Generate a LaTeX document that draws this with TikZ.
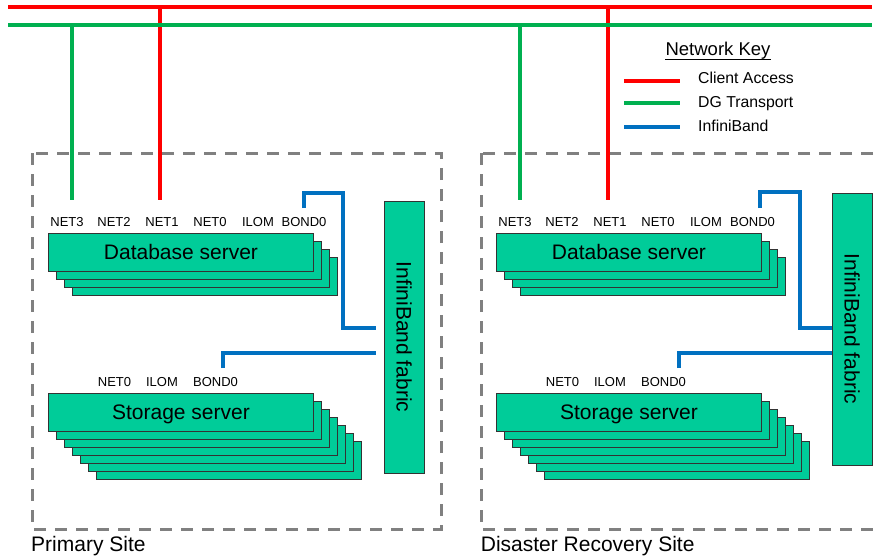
\documentclass[tikz,border=0pt]{standalone}
\usepackage{fontspec}
\setmainfont{Liberation Sans}
\definecolor{netred}{HTML}{FF0000}
\definecolor{netgreen}{HTML}{00B050}
\definecolor{netblue}{HTML}{0070C0}
\definecolor{srvfill}{HTML}{00CC99}
\definecolor{sitegray}{HTML}{808080}
\begin{document}
\begin{tikzpicture}[x=1pt,y=-1pt,
  srv/.style={draw=black!80, line width=0.9pt, fill=srvfill, minimum width=265pt,
    minimum height=38pt, inner sep=0pt, anchor=north west},
  srvtext/.style={font=\fontsize{21}{24}\selectfont, text height=15pt, text depth=0pt},
  fabric/.style={draw=black!80, line width=0.9pt, fill=srvfill, rotate=-90,
    minimum width=272pt, minimum height=40pt, inner sep=0pt,
    font=\fontsize{21}{24}\selectfont, text height=15pt, text depth=0pt},
  port/.style={font=\fontsize{13}{15}\selectfont, anchor=base, inner sep=0pt},
  keytext/.style={font=\fontsize{15.8}{18}\selectfont, anchor=base west, inner sep=0pt},
  sitelabel/.style={font=\fontsize{21}{24}\selectfont, anchor=base west, inner sep=0pt},
  site/.style={draw=sitegray, line width=3pt, dash pattern=on 12pt off 9pt},
  bus/.style={line width=4pt},
  drop/.style={line width=3.6pt},
  link/.style={draw=netblue, line width=3.4pt}]
\useasboundingbox (0,0) rectangle (880,559);
\clip (0,0) rectangle (880,559);

% ---- site outlines ----
\draw[site] (32,153) rectangle (441,529);
\draw[site] (481,153) rectangle (889,529);

% ---- bus end points and port taps ----
\coordinate (redW) at (8,7);   \coordinate (redE) at (872,7);
\coordinate (grnW) at (8,25);  \coordinate (grnE) at (872,25);
\coordinate (tapA3) at (72,200);  \coordinate (tapA1) at (160,200);
\coordinate (tapB3) at (520,200); \coordinate (tapB1) at (608,200);

% ---- client access and DG transport networks ----
\draw[bus, netred] (redW) -- (redE);
\draw[drop, netred] (tapA1 |- redW) -- (tapA1);
\draw[drop, netred] (tapB1 |- redW) -- (tapB1);
\draw[bus, netgreen] (grnW) -- (grnE);
\draw[drop, netgreen] (tapA3 |- grnW) -- (tapA3);
\draw[drop, netgreen] (tapB3 |- grnW) -- (tapB3);

% ---- primary site ----
\foreach \k in {3,2,1} \node[srv] (dbA\k) at (48+8*\k, 233+8*\k) {};
\node[srv, srvtext] (dbA) at (48,233) {Database server};
\foreach \k in {6,5,4,3,2,1} \node[srv] (stA\k) at (48+8*\k, 393+8*\k) {};
\node[srv, srvtext] (stA) at (48,393) {Storage server};
\node[fabric] (fabA) at (404,337) {InfiniBand fabric};

\node[port] (dbAn3) at (67,226.7) {NET3};
\node[port] (dbAn2) at (114,226.7) {NET2};
\node[port] (dbAn1) at (162,226.7) {NET1};
\node[port] (dbAn0) at (210,226.7) {NET0};
\node[port] (dbAil) at (258,226.7) {ILOM};
\node[port] (dbAbd) at (304,226.7) {BOND0};
\node[port] (stAn0) at (114.5,386.7) {NET0};
\node[port] (stAil) at (162,386.7) {ILOM};
\node[port] (stAbd) at (215.5,386.7) {BOND0};

\coordinate (bdA) at (304,208);
\coordinate (sbdA) at (223,368);
\draw[link, shorten >=8pt] (bdA) |- (343,193) |- (fabA.south |- 0,328);
\draw[link, shorten >=8pt] (sbdA) |- (fabA.south |- 0,353);

\node[sitelabel] (siteA) at (31,551.7) {Primary Site};

% ---- disaster recovery site ----
\foreach \k in {3,2,1} \node[srv] (dbB\k) at (496+8*\k, 233+8*\k) {};
\node[srv, srvtext] (dbB) at (496,233) {Database server};
\foreach \k in {6,5,4,3,2,1} \node[srv] (stB\k) at (496+8*\k, 393+8*\k) {};
\node[srv, srvtext] (stB) at (496,393) {Storage server};
\node[fabric] (fabB) at (852,329) {InfiniBand fabric};

\node[port] (dbBn3) at (515,226.7) {NET3};
\node[port] (dbBn2) at (562,226.7) {NET2};
\node[port] (dbBn1) at (610,226.7) {NET1};
\node[port] (dbBn0) at (658,226.7) {NET0};
\node[port] (dbBil) at (706,226.7) {ILOM};
\node[port] (dbBbd) at (752.5,226.7) {BOND0};
\node[port] (stBn0) at (562.5,386.7) {NET0};
\node[port] (stBil) at (610,386.7) {ILOM};
\node[port] (stBbd) at (663.5,386.7) {BOND0};

\coordinate (bdB) at (760,208);
\coordinate (sbdB) at (679,368);
\draw[link] (bdB) |- (800,192) |- (fabB.south |- 0,328);
\draw[link] (sbdB) |- (fabB.south |- 0,353);

\node[sitelabel] (siteB) at (480.7,551.7) {Disaster Recovery Site};

% ---- network key ----
\node[font=\fontsize{18.5}{21}\selectfont, inner sep=0pt, anchor=base] (keyT) at (718,56) {Network Key};
\draw[line width=1.6pt] (keyT.west |- 0,59.5) -- (keyT.east |- 0,59.5);
\coordinate (kA) at (624,81);    \coordinate (kAe) at (680,81);
\coordinate (kB) at (624,103.5); \coordinate (kBe) at (680,103.5);
\coordinate (kC) at (624,127);   \coordinate (kCe) at (680,127);
\draw[bus, netred] (kA) -- (kAe);
\draw[bus, netgreen] (kB) -- (kBe);
\draw[bus, netblue] (kC) -- (kCe);
\node[keytext] (kAt) at (698,83.5) {Client Access};
\node[keytext] (kBt) at (698,107) {DG Transport};
\node[keytext] (kCt) at (698,131.5) {InfiniBand};
\end{tikzpicture}
\end{document}
